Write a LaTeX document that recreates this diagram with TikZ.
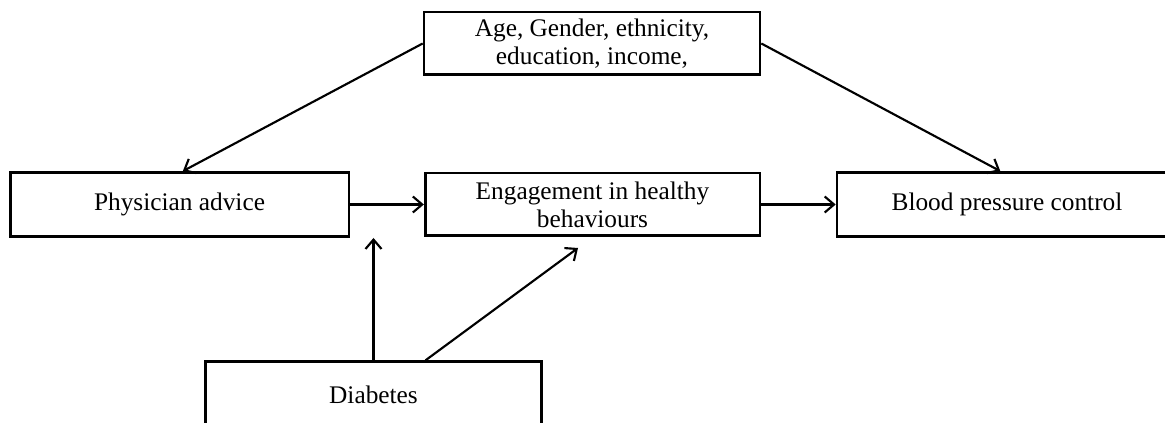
\documentclass[tikz,border=0pt]{standalone}
\usepackage{fontspec}
\setmainfont{Liberation Serif}
\usetikzlibrary{arrows.meta}
\begin{document}
\begin{tikzpicture}[x=0.75pt, y=-0.75pt,
    box/.style={draw, line width=2pt, align=center, inner sep=2pt,
        font=\fontsize{19}{21}\selectfont},
    arrow/.style={line width=1.6pt, -{Straight Barb[length=7pt,width=12pt,line width=1.6pt]}}]
    \useasboundingbox (0,0) rectangle (1165,423);

    % Boxes
    \node[box, minimum width=252pt, minimum height=47pt] (demog) at (592,43.5)
        {Age, Gender, ethnicity,\\education, income,};
    \node[box, minimum width=254pt, minimum height=48pt] (advice) at (179.5,204.5)
        {Physician advice};
    \node[box, minimum width=251pt, minimum height=47pt] (behav) at (592.5,204.5)
        {Engagement in healthy\\behaviours};
    \node[box, minimum width=255pt, minimum height=48pt] (bpc) at (1007,204.5)
        {Blood pressure control};
    \node[box, minimum width=252pt, minimum height=50pt] (diab) at (373.5,395)
        {Diabetes};

    % Free ends of the moderation arrows
    \coordinate (modone) at (373.5,238);
    \coordinate (modtwo) at (578,248);

    % Arrows
    \draw[arrow] (demog.west) -- ([xshift=2.5pt]advice.north);
    \draw[arrow] (demog.east) -- ([xshift=-5pt]bpc.north);
    \draw[arrow] (advice.east) -- (behav.west);
    \draw[arrow] (behav.east) -- (bpc.west);
    \draw[arrow] (diab.north) -- (modone);
    \draw[arrow] ([xshift=39pt]diab.north) -- (modtwo);
\end{tikzpicture}
\end{document}
